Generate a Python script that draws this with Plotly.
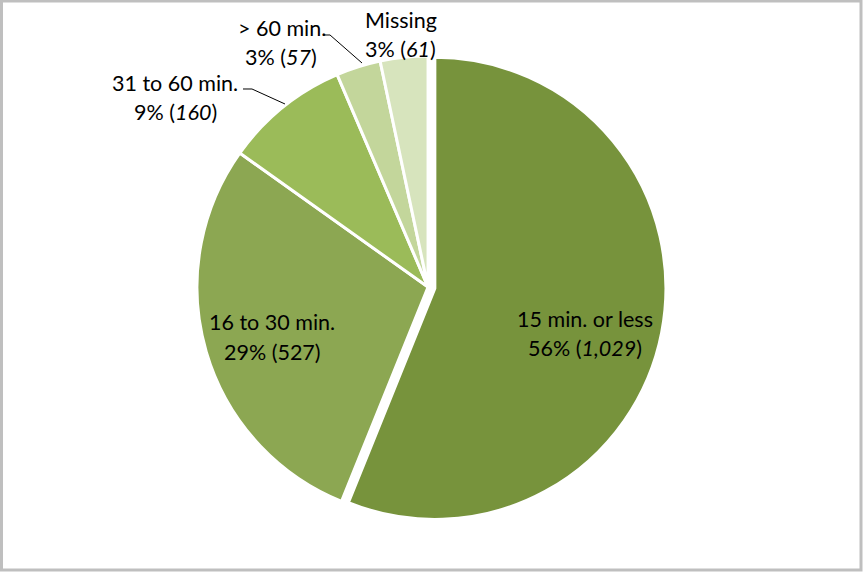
import plotly.graph_objects as go

# Commute time categories and respondent counts
categories = ["15 min. or less", "16 to 30 min.", "31 to 60 min.", "> 60 min.", "Missing"]
counts = [1029, 527, 160, 57, 61]
colors = ["#77933C", "#8CA752", "#9BBB59", "#C3D69B", "#D7E4BD"]
italic_counts = [True, False, True, True, True]
pulls = [0.03, 0, 0, 0, 0]

W, H = 863, 573
total = sum(counts)


def px(x, y):
    """Pixel position -> paper coordinates."""
    return x / W, 1 - y / H


fig = go.Figure(
    go.Pie(
        labels=categories,
        values=counts,
        sort=False,
        direction="clockwise",
        rotation=0,
        pull=pulls,
        marker=dict(colors=colors, line=dict(color="white", width=3)),
        textinfo="none",
        hoverinfo="label+value+percent",
        showlegend=False,
        domain=dict(x=[0.196, 0.796], y=[0.0837, 0.9144]),
    )
)

# Label placement (pixel centres of the category line and the value line)
label_pos = [
    ((585, 319), (585, 348)),
    ((272, 322), (272, 352)),
    ((175, 83), (175, 112)),
    ((282, 28), (281, 57)),
    ((401, 20), (400, 49)),
]

font = dict(family="Lato", size=21.5, color="black")
annotations = []
for cat, n, ital, (p1, p2) in zip(categories, counts, italic_counts, label_pos):
    pct = round(n / total * 100)
    num = f"{n:,}"
    num = f"<i>{num}</i>" if ital else num
    for txt, (x, y) in ((cat, p1), (f"{pct}% ({num})", p2)):
        ax, ay = px(x, y)
        annotations.append(
            dict(x=ax, y=ay, xref="paper", yref="paper", text=txt, showarrow=False,
                 xanchor="center", yanchor="middle", font=font)
        )


def path(points):
    pts = [px(x, y) for x, y in points]
    return "M " + " L ".join(f"{x:.5f},{y:.5f}" for x, y in pts)


shapes = [
    dict(type="path", xref="paper", yref="paper",
         path=path([(243, 89), (252, 89), (285, 104)]),
         line=dict(color="black", width=1)),
    dict(type="path", xref="paper", yref="paper",
         path=path([(324, 35), (330, 35), (362, 63)]),
         line=dict(color="black", width=1)),
    dict(type="rect", xref="paper", yref="paper",
         x0=1.5 / W, x1=1 - 2 / W, y0=3 / H, y1=1 - 1 / H,
         line=dict(color="#BFBFBF", width=3)),
]

fig.update_layout(
    width=W,
    height=H,
    margin=dict(l=0, r=0, t=0, b=0),
    paper_bgcolor="white",
    plot_bgcolor="white",
    annotations=annotations,
    shapes=shapes,
)

fig.write_html("out.html")
